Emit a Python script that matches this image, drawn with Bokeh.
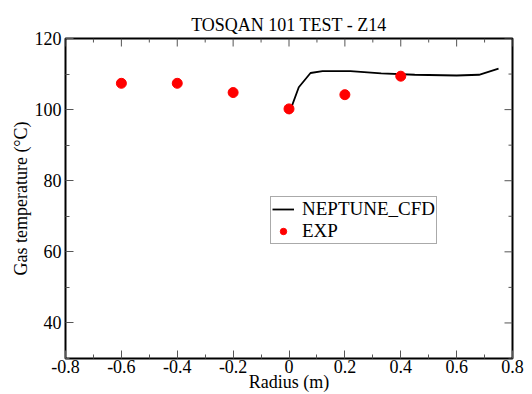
import math
from bokeh.plotting import figure
from bokeh.models import Range1d, Legend, LegendItem, FixedTicker
from bokeh.embed import file_html
from bokeh.resources import INLINE

# ---- data ----
radius_cfd = [0.0, 0.035, 0.077, 0.12, 0.22, 0.33, 0.45, 0.6, 0.68, 0.75]
temp_cfd = [98.8, 106.3, 110.3, 110.8, 110.8, 110.2, 109.8, 109.6, 109.8, 111.5]

radius_exp = [-0.6, -0.4, -0.2, 0.0, 0.2, 0.4]
temp_exp = [107.4, 107.4, 104.8, 100.2, 104.2, 109.4]

x_ticks = [-0.8, -0.6, -0.4, -0.2, 0.0, 0.2, 0.4, 0.6, 0.8]
x_tick_labels = ["-0.8", "-0.6", "-0.4", "-0.2", "0", "0.2", "0.4", "0.6", "0.8"]
x_minor = [-0.7, -0.5, -0.3, -0.1, 0.1, 0.3, 0.5, 0.7]
y_ticks = [40, 60, 80, 100, 120]
y_tick_labels = ["40", "60", "80", "100", "120"]
y_minor = [30, 50, 70, 90, 110]

X_MIN, X_MAX = -0.8, 0.8
Y_MIN, Y_MAX = 30, 120

FONT = "Liberation Serif"
FS = "18px"

p = figure(width=532, height=394, output_backend="svg", toolbar_location=None,
           x_range=Range1d(X_MIN, X_MAX), y_range=Range1d(Y_MIN, Y_MAX),
           min_border_left=65, min_border_right=20, min_border_top=38, min_border_bottom=20,
           x_axis_label="Radius (m)", y_axis_label="Gas temperature (°C)")

p.title.text = "TOSQAN 101 TEST - Z14"
p.title.align = "center"
p.title.text_font = FONT
p.title.text_font_size = FS
p.title.text_font_style = "normal"
p.title.text_color = "black"
p.title.standoff = 8

p.xgrid.visible = False
p.ygrid.visible = False
p.outline_line_color = "black"
p.outline_line_width = 2
p.background_fill_color = "white"
p.border_fill_color = "white"

def style(ax):
    ax.axis_line_color = None
    ax.major_tick_in = 8
    ax.major_tick_out = 0
    ax.minor_tick_in = 4
    ax.minor_tick_out = 0
    ax.major_tick_line_color = "#555555"
    ax.minor_tick_line_color = "#555555"
    ax.major_label_text_font = FONT
    ax.major_label_text_font_size = FS
    ax.major_label_text_color = "black"
    ax.axis_label_text_font = FONT
    ax.axis_label_text_font_size = FS
    ax.axis_label_text_font_style = "normal"
    ax.axis_label_text_color = "black"

p.xaxis.ticker = FixedTicker(ticks=x_ticks, minor_ticks=x_minor)
p.yaxis.ticker = FixedTicker(ticks=y_ticks, minor_ticks=y_minor)
p.xaxis.major_label_overrides = {t: l for t, l in zip(x_ticks, x_tick_labels)}
p.yaxis.major_label_overrides = {t: l for t, l in zip(y_ticks, y_tick_labels)}
style(p.xaxis[0])
style(p.yaxis[0])
p.xaxis[0].major_label_standoff = 1
p.xaxis[0].axis_label_standoff = -4
p.yaxis[0].major_label_standoff = 4
p.yaxis[0].axis_label_standoff = 1

# mirrored inward ticks on the top and right frame edges
tick_col = "#555555"
p.ray(x=x_ticks, y=[Y_MAX] * len(x_ticks), length=8, length_units="screen",
      angle=-math.pi / 2, line_color=tick_col, line_width=1)
p.ray(x=x_minor, y=[Y_MAX] * len(x_minor), length=4, length_units="screen",
      angle=-math.pi / 2, line_color=tick_col, line_width=1)
p.ray(x=[X_MAX] * len(y_ticks), y=y_ticks, length=8, length_units="screen",
      angle=math.pi, line_color=tick_col, line_width=1)
p.ray(x=[X_MAX] * len(y_minor), y=y_minor, length=4, length_units="screen",
      angle=math.pi, line_color=tick_col, line_width=1)

r_line = p.line(radius_cfd, temp_cfd, line_color="black", line_width=1.8)
r_exp = p.scatter(radius_exp, temp_exp, size=10, fill_color="red", line_color="red")

legend = Legend(items=[LegendItem(label="NEPTUNE_CFD", renderers=[r_line]),
                       LegendItem(label="EXP", renderers=[r_exp])],
                location=(205, 114), orientation="vertical")
legend.label_text_font = FONT
legend.label_text_font_size = "19px"
legend.label_text_color = "black"
legend.border_line_color = "#555555"
legend.border_line_width = 1
legend.background_fill_color = "white"
legend.background_fill_alpha = 1
legend.padding = 1
legend.spacing = 0
legend.margin = 0
legend.glyph_width = 22
legend.glyph_height = 16
legend.label_height = 16
legend.label_standoff = 8
p.add_layout(legend, "center")

open("out.html", "w").write(file_html(p, INLINE))
